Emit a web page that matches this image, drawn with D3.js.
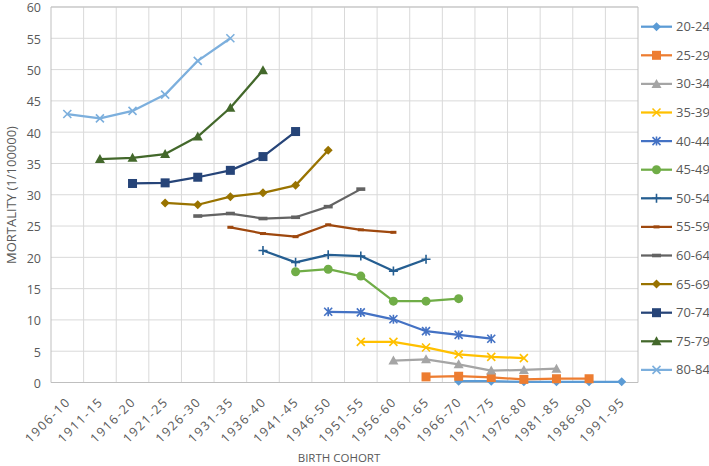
<!DOCTYPE html>
<html>
<head>
<meta charset="utf-8">
<script src="https://cdn.jsdelivr.net/npm/d3@7"></script>
<style>
  body { margin: 0; background: #fff; }
  text { font-family: "Open Sans", "Noto Sans", sans-serif; fill: #595959; }
</style>
</head>
<body>
<div id="chart"></div>
<script>
// categories and values
const cohorts = ['1906-10','1911-15','1916-20','1921-25','1926-30','1931-35','1936-40','1941-45','1946-50',
  '1951-55','1956-60','1961-65','1966-70','1971-75','1976-80','1981-85','1986-90','1991-95']
const yTicks = d3.range(0, 61, 5)

// each age group: first cohort index + values
const s2024 = [0.2, 0.2, 0.1, 0.1, 0.1, 0.1]
const s2529 = [0.9, 1.0, 0.8, 0.5, 0.6, 0.6]
const s3034 = [3.5, 3.7, 2.9, 1.9, 2.0, 2.2]
const s3539 = [6.5, 6.5, 5.6, 4.5, 4.1, 3.9]
const s4044 = [11.3, 11.2, 10.1, 8.2, 7.6, 7.0]
const s4549 = [17.7, 18.1, 17.0, 13.0, 13.0, 13.4]
const s5054 = [21.1, 19.2, 20.4, 20.2, 17.8, 19.7]
const s5559 = [24.8, 23.8, 23.3, 25.2, 24.4, 24.0]
const s6064 = [26.6, 27.0, 26.2, 26.4, 28.1, 30.9]
const s6569 = [28.7, 28.4, 29.7, 30.3, 31.5, 37.1]
const s7074 = [31.8, 31.9, 32.8, 33.9, 36.1, 40.1]
const s7579 = [35.7, 35.9, 36.5, 39.3, 43.9, 49.9]
const s8084 = [42.9, 42.2, 43.4, 46.0, 51.4, 55.0]

const series = [
  {name:'20-24', start:12, values:s2024, color:'#5B9BD5', marker:'diamond'},
  {name:'25-29', start:11, values:s2529, color:'#ED7D31', marker:'square'},
  {name:'30-34', start:10, values:s3034, color:'#A5A5A5', marker:'triangle'},
  {name:'35-39', start:9,  values:s3539, color:'#FFC000', marker:'x'},
  {name:'40-44', start:8,  values:s4044, color:'#4472C4', marker:'star'},
  {name:'45-49', start:7,  values:s4549, color:'#70AD47', marker:'circle'},
  {name:'50-54', start:6,  values:s5054, color:'#255E91', marker:'plus'},
  {name:'55-59', start:5,  values:s5559, color:'#9E480E', marker:'dash'},
  {name:'60-64', start:4,  values:s6064, color:'#636363', marker:'longdash'},
  {name:'65-69', start:3,  values:s6569, color:'#997300', marker:'diamond'},
  {name:'70-74', start:2,  values:s7074, color:'#264478', marker:'square'},
  {name:'75-79', start:1,  values:s7579, color:'#43682B', marker:'triangle'},
  {name:'80-84', start:0,  values:s8084, color:'#7CAFDD', marker:'x'}
]

const width = 709, height = 466
const plot = {left:51, right:638, top:7, bottom:382.5}

const svg = d3.select('#chart').append('svg')
  .attr('width', width).attr('height', height)

const xScale = d3.scaleBand().domain(cohorts).range([plot.left, plot.right]).paddingInner(0).paddingOuter(0)
const yScale = d3.scaleLinear().domain([0, 60]).range([plot.bottom, plot.top])
const xc = d => xScale(d) + xScale.bandwidth()/2

// gridlines
const grid = svg.append('g')
grid.selectAll('.hg').data(yTicks).join('line')
  .attr('x1', plot.left).attr('x2', plot.right)
  .attr('y1', d => yScale(d)).attr('y2', d => yScale(d))
  .attr('stroke', '#d9d9d9').attr('stroke-width', 1)
grid.selectAll('.vg').data(cohorts.slice(1).concat(['end'])).join('line')
  .attr('x1', (d,i) => plot.left + (i+1)*xScale.bandwidth())
  .attr('x2', (d,i) => plot.left + (i+1)*xScale.bandwidth())
  .attr('y1', plot.top).attr('y2', plot.bottom)
  .attr('stroke', (d,i) => i == cohorts.length-1 ? '#bfbfbf' : '#d9d9d9').attr('stroke-width', 1)
svg.append('line').attr('x1', plot.left).attr('x2', plot.right).attr('y1', plot.top).attr('y2', plot.top)
  .attr('stroke', '#bfbfbf')
svg.append('line').attr('x1', plot.left).attr('x2', plot.left).attr('y1', plot.top).attr('y2', plot.bottom)
  .attr('stroke', '#bfbfbf')
svg.append('line').attr('x1', plot.left).attr('x2', plot.right).attr('y1', plot.bottom).attr('y2', plot.bottom)
  .attr('stroke', '#bfbfbf')

// y tick labels
svg.append('g').selectAll('text').data(yTicks).join('text')
  .attr('x', 41).attr('y', d => yScale(d) + 1).attr('dy', '0.35em')
  .attr('text-anchor', 'end').style('font-size', '12.5px')
  .text(d => d)

// x tick labels
svg.append('g').selectAll('text').data(cohorts).join('text')
  .attr('transform', d => `translate(${xc(d)+1},${plot.bottom+17}) rotate(-45)`)
  .attr('text-anchor', 'end').attr('dy', '0.35em')
  .style('font-size', '12.5px').style('letter-spacing', '1.6px')
  .text(d => d)

// axis titles
svg.append('text').attr('transform', `translate(11,195) rotate(-90)`)
  .attr('text-anchor', 'middle').attr('dy', '0.35em').style('font-size', '13px')
  .text('MORTALITY (1/100000)')
svg.append('text').attr('x', 339).attr('y', 462)
  .attr('text-anchor', 'middle').style('font-size', '11.5px')
  .text('BIRTH COHORT')

function drawMarker (g, type, color) {
  if (type == 'diamond') g.append('path').attr('d', 'M0,-4.5L4.5,0L0,4.5L-4.5,0Z').attr('fill', color)
  else if (type == 'square') g.append('rect').attr('x', -4.5).attr('y', -4.5).attr('width', 9).attr('height', 9).attr('fill', color)
  else if (type == 'triangle') g.append('path').attr('d', 'M0,-5L5,4L-5,4Z').attr('fill', color)
  else if (type == 'circle') g.append('circle').attr('r', 4.5).attr('fill', color)
  else if (type == 'x') g.append('path').attr('d', 'M-4,-4L4,4M-4,4L4,-4').attr('stroke', color).attr('stroke-width', 1.6)
  else if (type == 'star') g.append('path').attr('d', 'M-4,-4L4,4M-4,4L4,-4M0,-4.5L0,4.5').attr('stroke', color).attr('stroke-width', 1.6)
  else if (type == 'plus') g.append('path').attr('d', 'M-4.5,0L4.5,0M0,-4.5L0,4.5').attr('stroke', color).attr('stroke-width', 1.6)
  else if (type == 'dash') g.append('rect').attr('x', -3).attr('y', -1.5).attr('width', 6).attr('height', 3).attr('fill', color)
  else if (type == 'longdash') g.append('rect').attr('x', -4.5).attr('y', -1.8).attr('width', 9).attr('height', 3.6).attr('fill', color)
}

const line = d3.line().x(d => xc(d.c)).y(d => yScale(d.v))

const seriesG = svg.append('g')
series.forEach(s => {
  const pts = s.values.map((v,i) => ({c: cohorts[s.start+i], v: v}))
  const g = seriesG.append('g')
  g.append('path').datum(pts).attr('d', line)
    .attr('fill', 'none').attr('stroke', s.color).attr('stroke-width', 2.25).attr('stroke-linejoin', 'round')
  pts.forEach(p => {
    drawMarker(g.append('g').attr('transform', `translate(${xc(p.c)},${yScale(p.v)})`), s.marker, s.color)
  })
})

// legend
const legend = svg.append('g')
series.forEach((s,i) => {
  const y = 26.7 + i*28.6
  const g = legend.append('g').attr('transform', `translate(0,${y})`)
  g.append('line').attr('x1', 641).attr('x2', 672).attr('stroke', s.color).attr('stroke-width', 2.25)
  drawMarker(g.append('g').attr('transform', 'translate(656.5,0)'), s.marker, s.color)
  g.append('text').attr('x', 676).attr('dy', '0.35em').style('font-size', '13px').text(s.name)
})
</script>
</body>
</html>
